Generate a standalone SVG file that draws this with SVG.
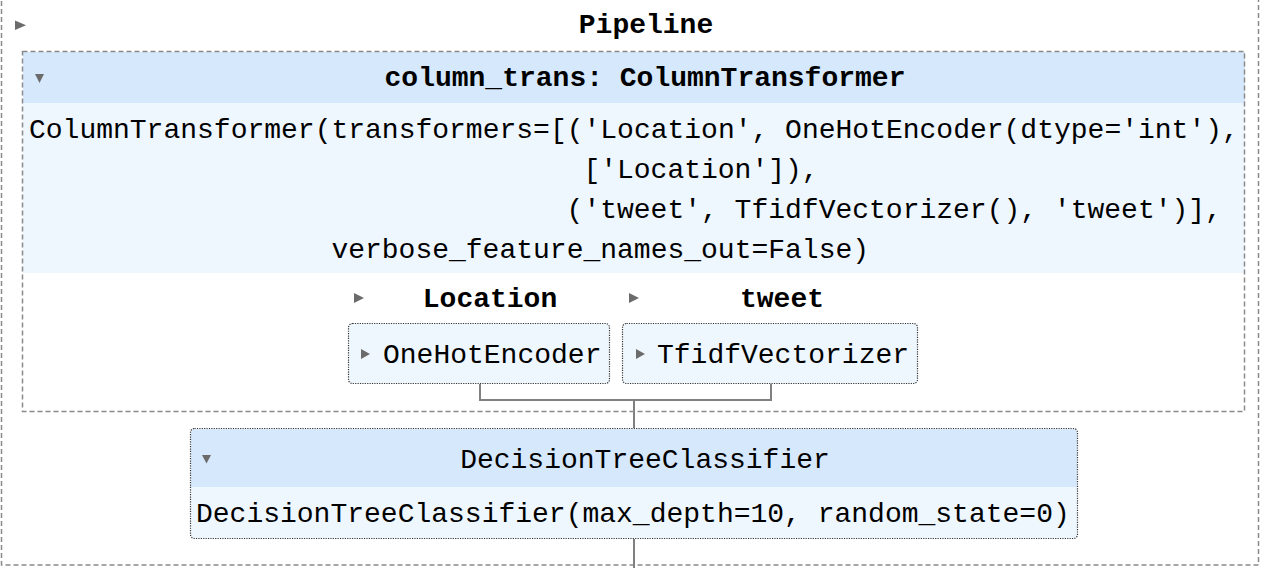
<svg xmlns="http://www.w3.org/2000/svg" width="1264" height="568" viewBox="0 0 1264 568">
<style>
.t{font-family:"Liberation Mono","Courier New",monospace;font-size:28px;fill:#000}
.b{font-weight:bold}
.c{text-anchor:middle}
.dash{fill:none;stroke:#8a8a8a;stroke-width:1.5;stroke-dasharray:5 3}
.dot{stroke:#333;stroke-width:1.2;stroke-dasharray:1.2 1.2}
.hdr{fill:#d6e8fc}
.body{fill:#eef6fe}
.tri{fill:#6b6b6b}
.conn{fill:none;stroke:#808080;stroke-width:2}
</style>
<rect width="1264" height="568" fill="#fff"/>
<g id="pipeline">
  <rect class="dash" x="1.5" y="-10" width="1257" height="575"/>
  <polygon class="tri" points="15,20.5 26,25.3 15,30"/>
  <text class="t b c" x="646" y="33">Pipeline</text>
</g>
<g id="connectors">
  <path class="conn" d="M480,384 V400 H771 V384"/>
  <path class="conn" d="M634,400 V428"/>
  <path class="conn" d="M634,539 V568"/>
</g>
<g id="column_trans">
  <rect class="hdr" x="23" y="52" width="1222" height="51"/>
  <rect class="body" x="23" y="103" width="1222" height="170"/>
  <rect class="dash" x="22.5" y="51.5" width="1222" height="360"/>
  <polygon class="tri" points="35,74 44,74 39.5,83"/>
  <text class="t b c" x="645" y="86">column_trans: ColumnTransformer</text>
  <text class="t" x="29" y="138">ColumnTransformer(transformers=[('Location', OneHotEncoder(dtype='int'),</text>
  <text class="t" x="583.4" y="178">['Location']),</text>
  <text class="t" x="566.6" y="218">('tweet', TfidfVectorizer(), 'tweet')],</text>
  <text class="t" x="331.4" y="258">verbose_feature_names_out=False)</text>
</g>
<g id="location">
  <polygon class="tri" points="354,293 364,298 354,303"/>
  <text class="t b c" x="490" y="307">Location</text>
  <rect class="body dot" x="348.5" y="323.5" width="261" height="60" rx="4"/>
  <polygon class="tri" points="361,349 370,354 361,359"/>
  <text class="t" x="383" y="363">OneHotEncoder</text>
</g>
<g id="tweet">
  <polygon class="tri" points="629,293 639,298 629,303"/>
  <text class="t b c" x="782" y="307">tweet</text>
  <rect class="body dot" x="622.5" y="323.5" width="295" height="60" rx="4"/>
  <polygon class="tri" points="636,349 645,354 636,359"/>
  <text class="t" x="657" y="363">TfidfVectorizer</text>
</g>
<g id="classifier">
  <rect class="body" x="191" y="429" width="886" height="109" rx="4"/>
  <path class="hdr" d="M195,429 H1073 A4,4 0 0 1 1077,433 V487 H191 V433 A4,4 0 0 1 195,429 Z"/>
  <rect fill="none" class="dot" x="190.5" y="428.5" width="887" height="110" rx="4"/>
  <polygon class="tri" points="202,455 211,455 206.5,463.5"/>
  <text class="t c" x="645" y="468">DecisionTreeClassifier</text>
  <text class="t" x="196" y="522">DecisionTreeClassifier(max_depth=10, random_state=0)</text>
</g>
</svg>
